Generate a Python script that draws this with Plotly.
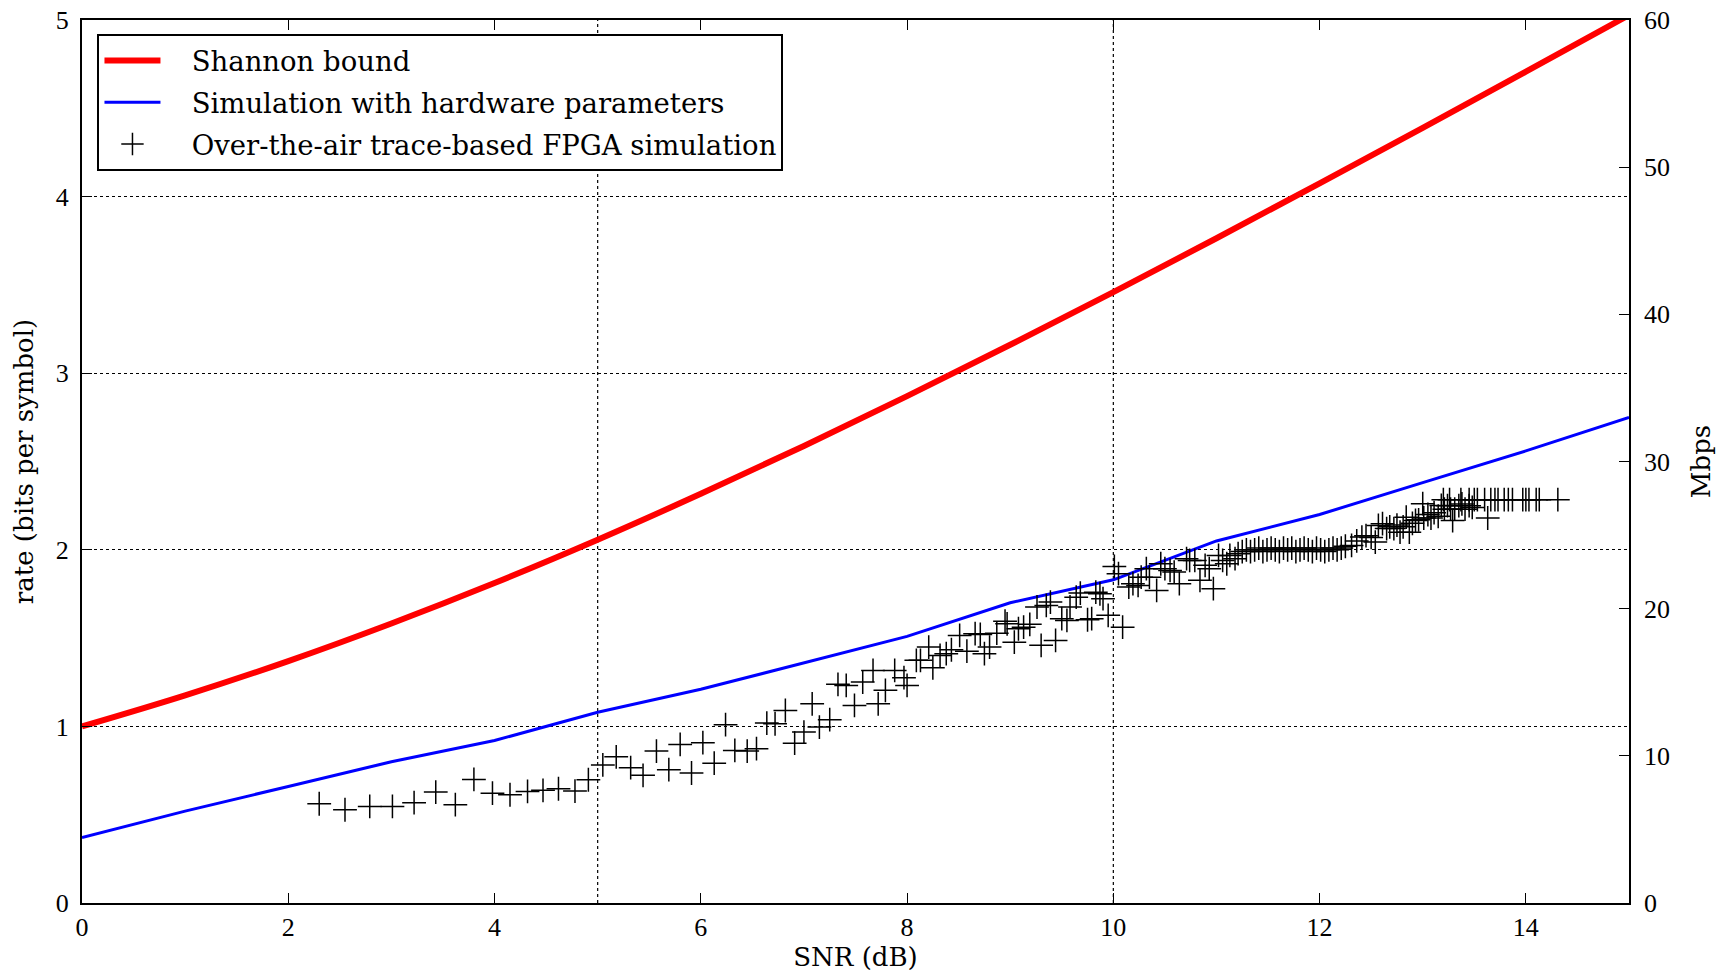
import plotly.graph_objects as go

# Shannon bound (rate vs SNR dB)
shannon_snr = [0, 1, 2, 3, 4, 5, 6, 7, 8, 9, 10, 11, 12, 13, 14, 15]
shannon_rate = [1.0, 1.176, 1.370, 1.583, 1.812, 2.057, 2.317, 2.588, 2.870, 3.161, 3.459, 3.764, 4.075, 4.389, 4.707, 5.028]

# Simulation with hardware parameters
hw_snr = [0, 1, 2, 3, 4, 5, 6, 7, 8, 9, 10, 11, 12, 13, 14, 15]
hw_rate = [0.37, 0.52, 0.66, 0.80, 0.92, 1.08, 1.21, 1.36, 1.51, 1.70, 1.83, 2.05, 2.20, 2.38, 2.56, 2.75]

# Over-the-air trace-based FPGA simulation
ota_snr = [2.30, 2.55, 2.79, 3.01, 3.22, 3.43, 3.62, 3.80, 3.98, 4.15, 4.32, 4.47, 4.62, 4.78, 4.91,
           5.05, 5.18, 5.32, 5.44, 5.57, 5.69, 5.80, 5.91, 6.02, 6.13, 6.24, 6.33, 6.45, 6.54, 6.64,
           6.72, 6.82, 6.91, 7.00, 7.08, 7.15, 7.25, 7.33, 7.41, 7.49, 7.57, 7.67, 7.72, 7.79, 7.88,
           7.97, 8.00, 8.09, 8.13, 8.21, 8.25, 8.32, 8.38, 8.43, 8.51, 8.58, 8.66, 8.71, 8.75, 8.80,
           8.87, 8.95, 8.97, 9.04, 9.08, 9.13, 9.19, 9.26, 9.30, 9.35, 9.39, 9.44, 9.50, 9.55, 9.58,
           9.64, 9.68, 9.75, 9.79, 9.83, 9.87, 9.90, 9.95, 10.01, 10.05, 10.09, 10.15, 10.19, 10.24, 10.27,
           10.32, 10.35, 10.42, 10.46, 10.50, 10.55, 10.59, 10.64, 10.71, 10.74, 10.79, 10.84, 10.89, 10.93, 10.97,
           11.02, 11.06, 11.10, 11.13, 11.18, 11.21,
           11.25, 11.29, 11.33, 11.37, 11.41, 11.45, 11.49, 11.53, 11.57, 11.61, 11.65, 11.69, 11.73, 11.77, 11.81,
           11.85, 11.89, 11.93, 11.97, 12.01, 12.05, 12.09, 12.13, 12.17, 12.21, 12.25,
           12.31, 12.36, 12.41, 12.45, 12.50, 12.54, 12.57, 12.61, 12.65, 12.68, 12.72, 12.75, 12.78, 12.81, 12.84,
           12.87, 12.90, 12.93, 12.96, 13.00, 13.01, 13.05, 13.08, 13.11, 13.15, 13.18, 13.21, 13.24, 13.27, 13.29,
           13.31, 13.35, 13.38, 13.41, 13.45, 13.48,
           13.20, 13.26, 13.37, 13.45, 13.50, 13.53, 13.60, 13.66, 13.70, 13.73, 13.79, 13.83, 13.87, 13.97, 14.00,
           14.03, 14.10, 14.13, 13.63, 14.31]
ota_rate = [0.562, 0.528, 0.547, 0.547, 0.568, 0.628, 0.557, 0.700, 0.622, 0.613, 0.632, 0.638, 0.647, 0.634, 0.698,
            0.782, 0.828, 0.766, 0.723, 0.860, 0.755, 0.898, 0.736, 0.908, 0.792, 1.010, 0.864, 0.860, 0.874, 1.019,
            1.015, 1.090, 0.905, 0.968, 1.128, 0.996, 1.038, 1.238, 1.232, 1.119, 1.251, 1.317, 1.128, 1.204, 1.317,
            1.276, 1.232, 1.374, 1.374, 1.449, 1.332, 1.402, 1.412, 1.434, 1.515, 1.426, 1.525, 1.521, 1.412, 1.449,
            1.528, 1.596, 1.581, 1.477, 1.553, 1.562, 1.578, 1.676, 1.459, 1.685, 1.704, 1.487, 1.610, 1.600, 1.676,
            1.732, 1.755, 1.604, 1.610, 1.760, 1.751, 1.723, 1.629, 1.906, 1.865, 1.562, 1.789, 1.808, 1.798, 1.845,
            1.893, 1.845, 1.770, 1.921, 1.893, 1.883, 1.874, 1.808, 1.950, 1.940, 1.940, 1.827, 1.912, 1.893, 1.780,
            1.968, 1.940, 1.921, 1.968, 1.950, 1.978,
            1.99, 2.00, 1.99, 2.00, 2.01, 1.99, 2.00, 2.01, 2.00, 1.99, 2.01, 2.00, 2.01, 1.99, 2.00,
            2.01, 2.00, 1.99, 2.01, 2.00, 1.99, 2.00, 2.01, 2.00, 2.01, 2.02,
            2.025, 2.05, 2.072, 2.08, 2.07, 2.044, 2.138, 2.148, 2.12, 2.13, 2.12, 2.14, 2.10, 2.13, 2.185,
            2.10, 2.15, 2.166, 2.17, 2.261, 2.18, 2.20, 2.18, 2.21, 2.19, 2.251, 2.23, 2.25, 2.23, 2.166,
            2.23, 2.25, 2.26, 2.23, 2.25, 2.24,
            2.284, 2.284, 2.284, 2.284, 2.284, 2.284, 2.284, 2.284, 2.284, 2.284, 2.284, 2.284, 2.284, 2.284, 2.284,
            2.284, 2.284, 2.284, 2.18, 2.284]

series_names = ["Shannon bound", "Simulation with hardware parameters", "Over-the-air trace-based FPGA simulation"]
x_ticks = [0, 2, 4, 6, 8, 10, 12, 14]
x_grid = [5, 10]
y_ticks = [0, 1, 2, 3, 4, 5]
mbps_ticks = [0, 10, 20, 30, 40, 50, 60]

TICKFONT = "Liberation Serif"
TEXTFONT = "DejaVu Serif"
PAD = "\u00a0\u00a0\u00a0"

fig = go.Figure()
fig.add_trace(go.Scatter(x=shannon_snr, y=shannon_rate, mode="lines", name=PAD + series_names[0],
                         legendgroup="a",
                         line=dict(color="#ff0000", width=6, shape="spline")))
fig.add_trace(go.Scatter(x=hw_snr, y=hw_rate, mode="lines", name=PAD + series_names[1],
                         legendgroup="b",
                         line=dict(color="#0000ff", width=3)))
fig.add_trace(go.Scatter(x=ota_snr, y=ota_rate, mode="markers", name=PAD + series_names[2],
                         legendgroup="c",
                         marker=dict(symbol="cross-thin-open", size=17, color="black",
                                     line=dict(color="black", width=1.5))))
fig.add_trace(go.Scatter(x=[None], y=[None], yaxis="y2", showlegend=False, hoverinfo="skip"))

for xv in x_grid:
    fig.add_shape(type="line", xref="x", yref="paper", x0=xv, x1=xv, y0=0, y1=1,
                  line=dict(color="black", width=1.2, dash="dot"), layer="below")

fig.update_layout(
    width=1728, height=976,
    margin=dict(l=82, r=99, t=20, b=73, autoexpand=False),
    plot_bgcolor="white", paper_bgcolor="white",
    font=dict(family=TEXTFONT, size=26, color="black"),
    showlegend=True,
    legend=dict(x=0.01, y=0.984, xanchor="left", yanchor="top",
                bgcolor="white", bordercolor="black", borderwidth=2,
                font=dict(family=TEXTFONT, size=27.5), itemwidth=56,
                traceorder="grouped", tracegroupgap=3),
    xaxis=dict(range=[0, 15], tickvals=x_ticks, ticks="inside", ticklen=10, tickwidth=1.2,
               tickcolor="black", showline=True, linecolor="black", linewidth=2, mirror="ticks",
               showgrid=False, zeroline=False, automargin=False,
               title=dict(text="SNR (dB)", standoff=2, font=dict(family=TEXTFONT, size=26)),
               tickfont=dict(family=TICKFONT, size=26)),
    yaxis=dict(range=[0, 5], tickvals=y_ticks, ticks="inside", ticklen=10, tickwidth=1.2,
               tickcolor="black", showline=True, linecolor="black", linewidth=2, mirror=True,
               showgrid=True, gridcolor="black", griddash="dot", gridwidth=1.2, zeroline=False,
               automargin=False, ticklabelstandoff=6,
               title=dict(text="rate (bits per symbol)", standoff=15, font=dict(family=TEXTFONT, size=26)),
               tickfont=dict(family=TICKFONT, size=26)),
    yaxis2=dict(range=[0, 60], tickvals=mbps_ticks, overlaying="y", side="right", anchor="x",
                ticks="inside", ticklen=10, tickwidth=1.2, tickcolor="black",
                showline=False, showgrid=False, zeroline=False, automargin=False,
                ticklabelstandoff=14,
                title=dict(text="Mbps", standoff=22, font=dict(family=TEXTFONT, size=26)),
                tickfont=dict(family=TICKFONT, size=26)),
)

fig.write_html("out.html")
